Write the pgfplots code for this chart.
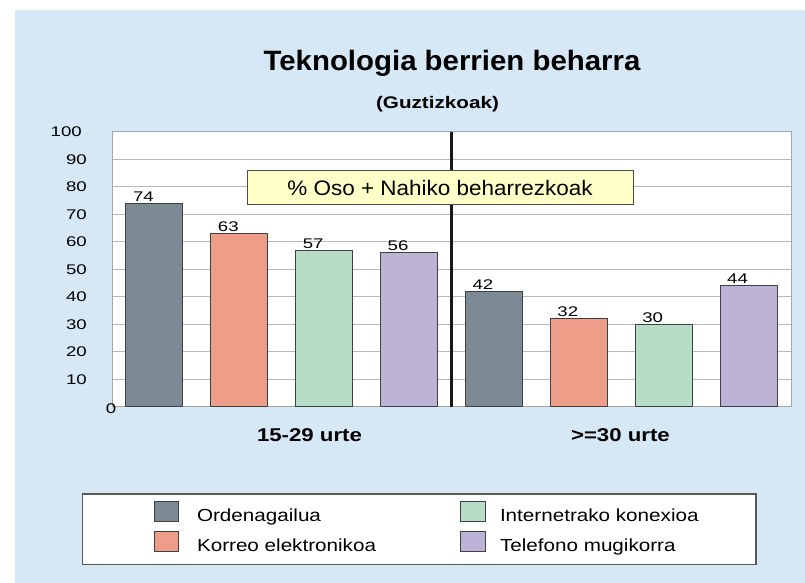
\documentclass[border=0pt]{standalone}
\usepackage{fontspec}
\setmainfont{Liberation Sans}
\newfontfamily\fTick[FakeStretch=1.33]{Liberation Sans}
\newfontfamily\fLeg[FakeStretch=1.18]{Liberation Sans}
\newfontfamily\fCat[FakeStretch=1.2]{Liberation Sans}
\newfontfamily\fSub[FakeStretch=1.23]{Liberation Sans}
\newfontfamily\fTitle[FakeStretch=1.05]{Liberation Sans}
\newfontfamily\fNote[FakeStretch=1.07]{Liberation Sans}
\usepackage{pgfplots}
\pgfplotsset{compat=1.18}
\definecolor{bgblue}{HTML}{D6E8F5}
\definecolor{cOrd}{HTML}{7B8A94}
\definecolor{cKor}{HTML}{EE9E88}
\definecolor{cInt}{HTML}{B5DDC8}
\definecolor{cTel}{HTML}{BCB3D6}
\definecolor{cNote}{HTML}{FFFFC8}
\begin{document}
\begin{tikzpicture}
\useasboundingbox (0pt,0pt) rectangle (805pt,583pt);
\fill[white] (0pt,0pt) rectangle (805pt,583pt);
\fill[bgblue] (15pt,0pt) rectangle (805pt,573pt);
\node[anchor=base, font=\fTitle\bfseries\fontsize{28}{28}\selectfont] at (452pt,512pt) {Teknologia berrien beharra};
\node[anchor=base, font=\fSub\bfseries\fontsize{16.8}{17}\selectfont] at (437.5pt,474pt) {(Guztizkoak)};
\draw[draw=black!65, line width=1.2pt, fill=white] (82.7pt,18.3pt) rectangle (756pt,89pt);
\begin{axis}[
  at={(112pt,176pt)}, anchor=south west,
  scale only axis, width=679pt, height=275pt,
  clip=false,
  /pgf/number format/assume math mode=true,
  xmin=0, xmax=8, ymin=0, ymax=100,
  axis background/.style={fill=white},
  axis line style={draw=black!35, line width=1pt},
  ymajorgrids, major grid style={draw=black!28, line width=1pt},
  major tick length=0pt, tick style={draw=none},
  ytick={10,20,30,40,50,60,70,80,90,100},
  yticklabels={10\hspace*{25pt},20\hspace*{25pt},30\hspace*{25pt},40\hspace*{25pt},50\hspace*{25pt},60\hspace*{25pt},70\hspace*{25pt},80\hspace*{25pt},90\hspace*{25pt},100\hspace*{30pt}},
  yticklabel style={font=\fTick\fontsize{14}{14}\selectfont, anchor=east, inner sep=0pt},
  extra y ticks={0}, extra y tick labels={0},
  extra y tick style={grid=none, yticklabel style={anchor=center, xshift=-1pt, yshift=-1.5pt}},
  xtick={2.327,5.99},
  xticklabels={15-29 urte, >=30 urte},
  xticklabel style={font=\fCat\bfseries\fontsize{18.5}{18.5}\selectfont, anchor=base, yshift=-35pt, inner sep=0pt},
  mybar/.style={ybar, bar width=57pt, bar shift=0pt, draw=black!75, line width=1pt,
     nodes near coords,
     nodes near coords style={font=\fTick\fontsize{14}{14}\selectfont, text=black, anchor=south, inner sep=1.5pt, xshift=-11pt},
     legend image code/.code={\draw[##1, line width=1pt] (0pt,0pt) rectangle (24.5pt,20pt);}},
  legend columns=2,
  legend style={draw=none, fill=none, inner sep=0pt, outer sep=0pt,
     at={(axis cs:0.489,-34)}, anchor=north west,
     row sep=6pt, column sep=0pt,
     font=\fLeg\fontsize{17.5}{17.5}\selectfont,
     cells={anchor=base west, inner sep=0pt}},
]
\addplot[mybar, fill=cOrd] coordinates {(0.5,74) (4.5,42)};
\addlegendentry{\hspace*{16pt}\makebox[261pt][l]{Ordenagailua}}
\addplot[mybar, fill=cInt] coordinates {(2.5,57) (6.5,30)};
\addlegendentry{\hspace*{12.5pt}Internetrako konexioa}
\addplot[mybar, fill=cKor] coordinates {(1.5,63) (5.5,32)};
\addlegendentry{\hspace*{16pt}\makebox[261pt][l]{Korreo elektronikoa}}
\addplot[mybar, fill=cTel] coordinates {(3.5,56) (7.5,44)};
\addlegendentry{\hspace*{12.5pt}Telefono mugikorra}
\addplot[forget plot, sharp plot, no marks, draw=black!90, line width=3.5pt] coordinates {(4,0) (4,100)};
\node[draw=black!70, line width=1pt, fill=cNote, minimum width=386pt, minimum height=34pt, inner sep=0pt,
      font=\fNote\fontsize{21}{21}\selectfont] at (axis cs:3.865,79.64) {\% Oso + Nahiko beharrezkoak};
\end{axis}
\end{tikzpicture}
\end{document}
